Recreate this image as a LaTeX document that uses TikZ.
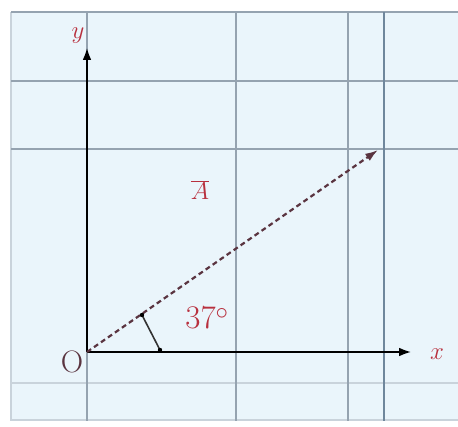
\documentclass[tikz,border=0pt]{standalone}
\usepackage{xcolor}
\usepackage{tikz}
\usetikzlibrary{arrows.meta,positioning,calc}
\definecolor{paperblue}{HTML}{EAF5FB}
\definecolor{gridgray}{HTML}{95A3B0}
\definecolor{gridblue}{HTML}{6F879C}
\definecolor{gridfaint}{HTML}{C9D3DB}
\definecolor{vecred}{HTML}{5A3440}
\definecolor{lblred}{HTML}{B8303E}
\tikzset{
  gridline/.style={draw=gridgray, line width=2pt},
  gridstrong/.style={draw=gridblue, line width=2.2pt},
  gridlight/.style={draw=gridfaint, line width=1.6pt},
  axisline/.style={-{Latex[length=4.5mm,width=3mm]}, line width=2.8pt, black},
  vecline/.style={-{Latex[length=4.5mm,width=3mm]}, line width=2.2pt, vecred, dash pattern=on 5pt off 3.5pt},
  anglemark/.style={line width=1.6pt, black!80},
  lbl/.style={text=lblred, font=\fontsize{33}{35}\selectfont, inner sep=0pt},
  olbl/.style={text=vecred, font=\fontsize{31}{33}\selectfont, inner sep=0pt}
}
\begin{document}
\begin{tikzpicture}[x=1pt, y=-1pt]
  \useasboundingbox (0,0) rectangle (458,427);
  \fill[paperblue] (11,12) rectangle (458,421);
  % grid
  \draw[gridlight] (11,383) -- (458,383);
  \draw[gridlight] (11,420) -- (458,420);
  \draw[gridlight] (11,12) -- (11,421);
  \draw[gridline] (11,12) -- (458,12);
  \draw[gridline] (11,81) -- (458,81);
  \draw[gridline] (11,149) -- (458,149);
  \draw[gridline] (87,12) -- (87,421);
  \draw[gridline] (236,12) -- (236,421);
  \draw[gridline] (348,12) -- (348,421);
  \draw[gridstrong] (384,12) -- (384,421);
  % axes
  \coordinate (o) at (87,352);
  \coordinate (ytip) at (87,47);
  \coordinate (xtip) at (412,352);
  \coordinate (atip) at (378,150);
  \draw[axisline] (o) -- (ytip);
  \draw[axisline] (o) -- (xtip);
  \draw[vecline] (o) -- (atip);
  % angle
  \coordinate (m1) at (142,315);
  \coordinate (m2) at (160,350);
  \draw[anglemark] (m1) -- (m2);
  \fill[black] (m1) circle (2.2pt) (m2) circle (2.2pt);
  % labels
  \node[lbl] (ylbl) at (78,36) {$y$};
  \node[lbl] (xlbl) at (437,354) {$x$};
  \node[olbl] (origin) at (72,362) {O};
  \node[lbl] (avec) at (200,190) {$\overline{A}$};
  \node[lbl] (angle) at (207,318) {37$^\circ$};
\end{tikzpicture}
\end{document}
